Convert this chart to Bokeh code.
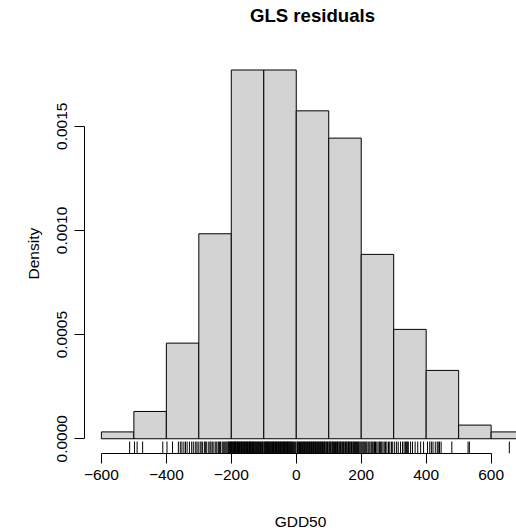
from bokeh.plotting import figure
from bokeh.models import Range1d, FixedTicker, CustomJSTickFormatter, Label, Title
from bokeh.embed import file_html
from bokeh.resources import INLINE

# Histogram of GLS residuals (density scale), bins of width 100
bin_left = [-600, -500, -400, -300, -200, -100, 0, 100, 200, 300, 400, 500, 600]
bin_right = [-500, -400, -300, -200, -100, 0, 100, 200, 300, 400, 500, 600, 700]
density = [0.0000328, 0.000131, 0.000459, 0.000984, 0.001770, 0.001770,
           0.001574, 0.001443, 0.000885, 0.000525, 0.000328, 0.0000656, 0.0000328]

# rug positions (residual values read from the rug)
rug = [
    -513,
    -498, -490, -473, -411,
    -398, -381, -363, -357, -352, -346, -341, -336, -329, -322, -317, -311, -306, -302,
    -296, -293, -289, -283, -280, -277, -271, -266, -263, -259, -256, -250, -247, -244, -239,
    -236, -233, -228, -225, -222, -219, -216, -213, -210, -208, -206, -204, -203, -201, -200.5,
    -199, -197, -195, -194, -192, -190, -189, -187, -185, -183, -181, -180, -178, -176, -175,
    -173, -171, -169, -168, -166, -164, -162, -160, -159, -157, -155, -153, -152, -150, -148,
    -146, -144, -143, -141, -139, -137, -135, -134, -132, -130, -128, -126, -124, -122, -120,
    -118, -116, -114, -112, -110, -108, -106, -104, -102,
    -99, -97, -96, -94, -92, -91, -89, -87, -85, -84, -82, -80, -78, -77, -75, -73, -71, -70,
    -68, -66, -64, -63, -61, -59, -57, -55, -54, -52, -50, -48, -47, -45, -43, -41, -39, -38,
    -36, -34, -32, -31, -29, -27, -25, -23, -22, -20, -18, -16, -14, -12, -10, -8, -5, -2,
    2, 4, 6, 8, 10, 13, 15, 17, 19, 21, 23, 25, 27, 29, 31, 33, 35, 37, 39, 41, 43, 45, 47, 49,
    51, 53, 55, 57, 59, 61, 63, 65, 67, 69, 71, 73, 75, 77, 79, 81, 83, 85, 87, 89, 92, 94, 96, 98,
    101, 103, 105, 107, 110, 112, 114, 116, 118, 121, 123, 125, 127, 129, 132, 134, 136, 138,
    141, 143, 145, 147, 150, 152, 154, 156, 159, 161, 163, 165, 168, 170, 172, 175, 177, 179,
    182, 184, 186, 189, 191, 193, 196, 199,
    202, 205, 208, 211, 214, 217, 221, 224, 227, 231, 234, 237, 241, 244, 248, 252, 256, 259,
    263, 267, 271, 275, 279, 284, 288, 293, 297,
    303, 309, 314, 321, 327, 332, 336, 339, 342, 345, 352, 358, 366, 374, 383, 392,
    404, 411, 416, 421, 428, 434, 437, 441, 446, 479,
    529, 533,
    656,
]

x_ticks = [-600, -400, -200, 0, 200, 400, 600]
y_ticks = [0.0, 0.0005, 0.0010, 0.0015]
title_text = "GLS residuals"
x_label = "GDD50"
y_label = "Density"

FONT = "Liberation Sans"
ymax = max(density)
# R's plot region: y from -4% to +4% beyond data, 400 px tall; the frame here also
# covers the 55 px margin above it so that the title can sit inside the frame
y0 = -0.04 * ymax
per_px = (1.08 * ymax) / 400.0
y1 = y0 + 455 * per_px

p = figure(width=516, height=532, output_backend="svg", toolbar_location=None,
           x_range=Range1d(-652, 678.1), y_range=Range1d(y0, y1),
           min_border_left=84, min_border_right=0, min_border_top=0, min_border_bottom=77)

p.quad(left=bin_left, right=bin_right, bottom=0, top=density,
       fill_color="#D3D3D3", line_color="black", line_width=1)

tick_len = 12 * per_px
p.segment(x0=rug, x1=rug, y0=[y0] * len(rug), y1=[y0 + tick_len] * len(rug),
          line_color="black", line_width=1)

p.grid.visible = False
p.outline_line_color = None
p.background_fill_color = "white"
p.border_fill_color = "white"

# title (frame-relative screen units, y measured up from the frame bottom)
p.add_layout(Label(x=228, y=438, x_units="screen", y_units="screen", text=title_text,
                   text_font=FONT, text_font_size="18.6px", text_font_style="bold",
                   text_color="black", text_align="center", text_baseline="middle"))

for ax in (p.xaxis[0], p.yaxis[0]):
    ax.axis_line_color = "black"
    ax.major_tick_line_color = "black"
    ax.major_tick_out = 10
    ax.major_tick_in = 0
    ax.minor_tick_line_color = None
    ax.major_label_text_font = FONT
    ax.major_label_text_font_size = "15.5px"
    ax.major_label_text_color = "black"
    ax.axis_label_text_font = FONT
    ax.axis_label_text_font_size = "15.5px"
    ax.axis_label_text_font_style = "normal"
    ax.axis_label_text_color = "black"

xa = p.xaxis[0]
xa.ticker = FixedTicker(ticks=x_ticks)
xa.bounds = (x_ticks[0], x_ticks[-1])
xa.formatter = CustomJSTickFormatter(code="return tick < 0 ? '\\u2212' + Math.abs(tick) : tick.toString();")
xa.major_label_standoff = 6
xa.axis_label = x_label
xa.axis_label_standoff = 30

ya = p.yaxis[0]
ya.ticker = FixedTicker(ticks=y_ticks)
ya.bounds = (y_ticks[0], y_ticks[-1])
ya.formatter = CustomJSTickFormatter(code="return tick.toFixed(4);")
ya.major_label_orientation = "vertical"
ya.major_label_standoff = 7

# y axis label as a side title, centred on R's plot region (not the taller frame)
p.add_layout(Title(text=y_label, align="left", offset=174, standoff=22,
                   vertical_align="top",
                   text_font=FONT, text_font_size="15.5px", text_font_style="normal",
                   text_color="black"), "left")

open("out.html", "w").write(file_html(p, INLINE))
